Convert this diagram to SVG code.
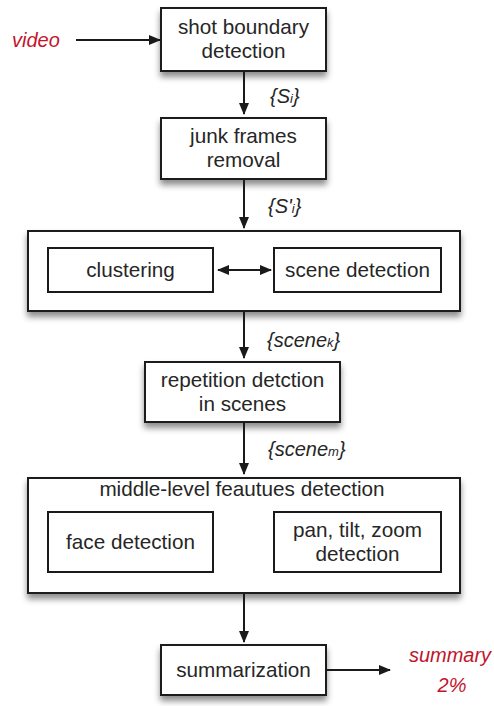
<svg xmlns="http://www.w3.org/2000/svg" width="494" height="706" viewBox="0 0 494 706">
<style>
.box{fill:#fff;stroke:#1a1a1a;stroke-width:2;filter:url(#sh)}
.inner{fill:#fff;stroke:#1a1a1a;stroke-width:2}
.t{font-family:"Liberation Sans",Arial,sans-serif;font-size:20.7px;fill:#262626;text-anchor:middle}
.lab{font-family:"Liberation Sans",Arial,sans-serif;font-size:20px;font-style:italic;fill:#262626}
.red{font-family:"Liberation Sans",Arial,sans-serif;font-size:20px;font-style:italic;fill:#c4142c}
.ln{stroke:#1a1a1a;stroke-width:2;fill:none}
</style>
<defs>
<filter id="sh" x="-10%" y="-20%" width="120%" height="150%">
<feDropShadow dx="0" dy="5" stdDeviation="3" flood-color="#000" flood-opacity="0.45"/>
</filter>
<marker id="ah" viewBox="0 0 12 12" refX="11" refY="6" markerWidth="12" markerHeight="12" markerUnits="userSpaceOnUse" orient="auto-start-reverse">
<path d="M0,1 L12,6 L0,11 z" fill="#1a1a1a"/>
</marker>
</defs>
<g id="video"><text class="red" x="12" y="47">video</text></g>
<g id="shot"><rect class="box" x="161" y="8" width="165" height="63"/><text class="t" x="243.5" y="34">shot boundary</text><text class="t" x="243.5" y="58">detection</text></g>
<g id="junk"><rect class="box" x="161" y="118" width="165" height="61"/><text class="t" x="243.5" y="143">junk frames</text><text class="t" x="243.5" y="167">removal</text></g>
<g id="group1"><rect class="box" x="28" y="231" width="432" height="80"/>
<g id="clustering"><rect class="inner" x="48" y="248" width="165" height="44"/><text class="t" x="130.5" y="277">clustering</text></g>
<g id="scenedet"><rect class="inner" x="274" y="248" width="167" height="44"/><text class="t" x="357.5" y="277">scene detection</text></g>
</g>
<g id="repetition"><rect class="box" x="145" y="362" width="195" height="60"/><text class="t" x="242.5" y="387">repetition detction</text><text class="t" x="242.5" y="411">in scenes</text></g>
<g id="group2"><rect class="box" x="28" y="478" width="432" height="115"/><text class="t" x="242" y="496">middle-level feautues detection</text>
<g id="face"><rect class="inner" x="48" y="512" width="165" height="60"/><text class="t" x="130.5" y="549">face detection</text></g>
<g id="pan"><rect class="inner" x="274" y="512" width="167" height="60"/><text class="t" x="357.5" y="537">pan, tilt, zoom</text><text class="t" x="357.5" y="561">detection</text></g>
</g>
<g id="summarization"><rect class="box" x="161" y="645" width="165" height="50"/><text class="t" x="243.5" y="677">summarization</text></g>
<g id="summary"><text class="red" x="450" y="662" text-anchor="middle">summary</text><text class="red" x="452" y="692" text-anchor="middle">2%</text></g>
<g id="connectors">
<line class="ln" x1="76" y1="40" x2="160" y2="40" marker-end="url(#ah)"/>
<line class="ln" x1="244" y1="71" x2="244" y2="114" marker-end="url(#ah)"/>
<line class="ln" x1="244" y1="179" x2="244" y2="228" marker-end="url(#ah)"/>
<line class="ln" x1="218" y1="270" x2="271" y2="270" marker-start="url(#ah)" marker-end="url(#ah)"/>
<line class="ln" x1="244" y1="311" x2="244" y2="358" marker-end="url(#ah)"/>
<line class="ln" x1="244" y1="422" x2="244" y2="474" marker-end="url(#ah)"/>
<line class="ln" x1="244" y1="593" x2="244" y2="642" marker-end="url(#ah)"/>
<line class="ln" x1="326" y1="670" x2="390" y2="670" marker-end="url(#ah)"/>
<text class="lab" x="270" y="103">{S<tspan font-size="13">i</tspan>}</text>
<text class="lab" x="268" y="213">{S'<tspan font-size="13">i</tspan>}</text>
<text class="lab" x="267" y="347">{scene<tspan font-size="13">k</tspan>}</text>
<text class="lab" x="268" y="456">{scene<tspan font-size="13">m</tspan>}</text>
</g>
</svg>
